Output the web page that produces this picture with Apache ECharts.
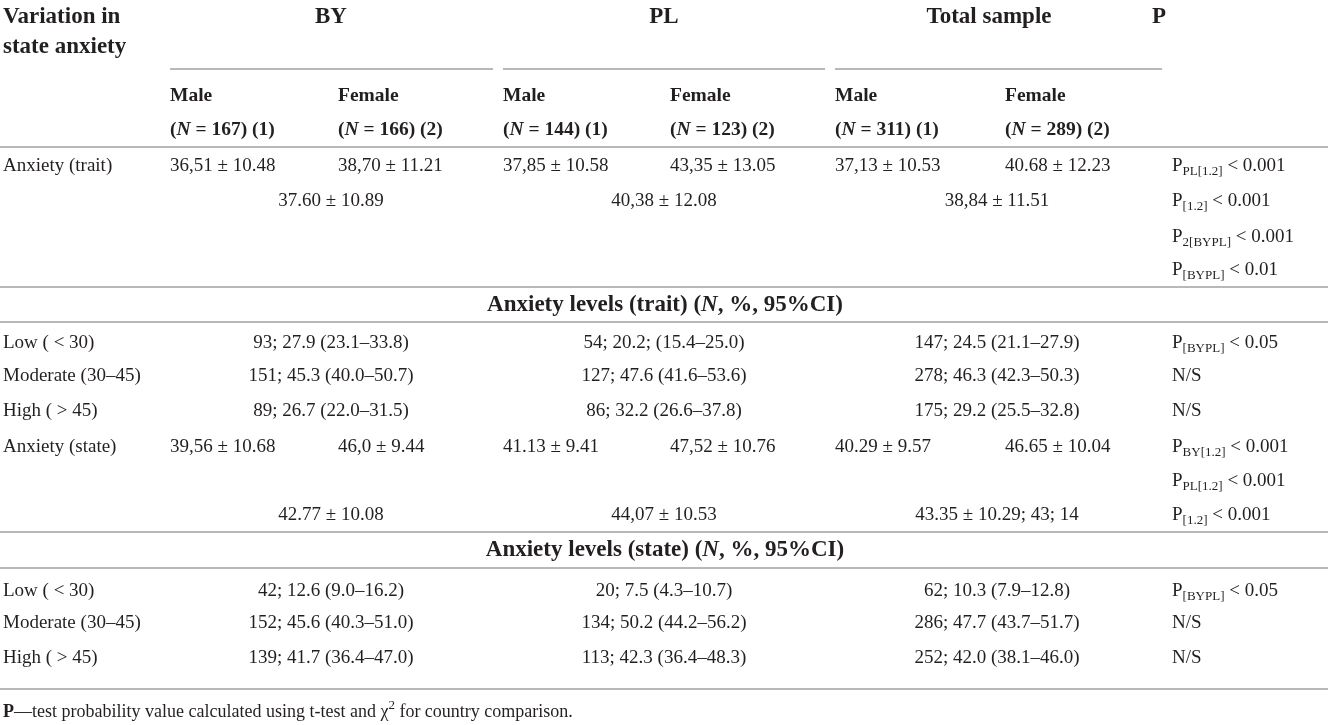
<!DOCTYPE html>
<html>
<head>
<meta charset="utf-8">
<script src="https://cdn.jsdelivr.net/npm/echarts@6/dist/echarts.min.js"></script>
<style>
html,body{margin:0;padding:0;background:#fff;}
#chart{width:1331px;height:725px;}
</style>
</head>
<body>
<div id="chart"></div>
<script>
// ---------------- DATA ----------------
const stubHeader = ['Variation in', 'state anxiety'];
const groups = ['BY', 'PL', 'Total sample'];
const pHeader = 'P';
const sexLabels = ['Male', 'Female'];
const groupN = [[167, 166], [144, 123], [311, 289]];

const traitLabel = 'Anxiety (trait)';
const traitMeans = ['36,51 ± 10.48', '38,70 ± 11.21', '37,85 ± 10.58', '43,35 ± 13.05', '37,13 ± 10.53', '40.68 ± 12.23'];
const traitCombined = ['37.60 ± 10.89', '40,38 ± 12.08', '38,84 ± 11.51'];
const traitP = [['PL[1.2]', '0.001'], ['[1.2]', '0.001'], ['2[BYPL]', '0.001'], ['[BYPL]', '0.01']];

const traitSection = ['Anxiety levels (trait) (', 'N', ', %, 95%CI)'];
const levelLabels = ['Low ( < 30)', 'Moderate (30–45)', 'High ( > 45)'];
const traitLevels = [
  ['93; 27.9 (23.1–33.8)', '54; 20.2; (15.4–25.0)', '147; 24.5 (21.1–27.9)'],
  ['151; 45.3 (40.0–50.7)', '127; 47.6 (41.6–53.6)', '278; 46.3 (42.3–50.3)'],
  ['89; 26.7 (22.0–31.5)', '86; 32.2 (26.6–37.8)', '175; 29.2 (25.5–32.8)']
];
const traitLevelP = [['[BYPL]', '0.05'], 'N/S', 'N/S'];

const stateLabel = 'Anxiety (state)';
const stateMeans = ['39,56 ± 10.68', '46,0 ± 9.44', '41.13 ± 9.41', '47,52 ± 10.76', '40.29 ± 9.57', '46.65 ± 10.04'];
const stateCombined = ['42.77 ± 10.08', '44,07 ± 10.53', '43.35 ± 10.29; 43; 14'];
const stateP = [['BY[1.2]', '0.001'], ['PL[1.2]', '0.001'], ['[1.2]', '0.001']];

const stateSection = ['Anxiety levels (state) (', 'N', ', %, 95%CI)'];
const stateLevels = [
  ['42; 12.6 (9.0–16.2)', '20; 7.5 (4.3–10.7)', '62; 10.3 (7.9–12.8)'],
  ['152; 45.6 (40.3–51.0)', '134; 50.2 (44.2–56.2)', '286; 47.7 (43.7–51.7)'],
  ['139; 41.7 (36.4–47.0)', '113; 42.3 (36.4–48.3)', '252; 42.0 (38.1–46.0)']
];
const stateLevelP = [['[BYPL]', '0.05'], 'N/S', 'N/S'];

const footnote = ['P', '—test probability value calculated using t-test and χ', '2', ' for country comparison.'];

// ---------------- LAYOUT ----------------
const W = 1331, H = 725;
const labelX = 3;
const colLeft = [170, 338, 503, 670, 835, 1005];
const groupCenter = [331, 664, 997];
const groupHeaderCenter = [331, 664, 989];
const pX = 1172, pHeadX = 1152;
const tableCenter = 665;
const groupSpans = [[170, 493], [503, 825], [835, 1162]];
const rowY = {
  h1: 17, h2: 47, sub1: 96, sub2: 130,
  trait: 166, traitComb: 201, traitP3: 237, traitP4: 270,
  sec1: 305, lev1: [343, 376, 411],
  state: 447, stateP2: 481, stateComb: 515,
  sec2: 550, lev2: [591, 623, 658],
  foot: 712
};
const fullRules = [147, 287, 322, 532, 568, 689];
const groupRuleY = 69;

// ---------------- TEXT BUILDERS ----------------
const F = '"Liberation Serif", "Times New Roman", serif';
const C = '#231f20';
const rich = {
  n: {fontFamily: F, fontSize: 19, lineHeight: 26, fill: C},
  s: {fontFamily: F, fontSize: 13, lineHeight: 26, padding: [12, 0, 0, 0], fill: C},
  b: {fontFamily: F, fontSize: 19.5, fontWeight: 'bold', lineHeight: 26, fill: C},
  bi: {fontFamily: F, fontSize: 19.5, fontWeight: 'bold', fontStyle: 'italic', lineHeight: 26, fill: C},
  h: {fontFamily: F, fontSize: 23, fontWeight: 'bold', lineHeight: 28, fill: C},
  hi: {fontFamily: F, fontSize: 23, fontWeight: 'bold', fontStyle: 'italic', lineHeight: 28, fill: C},
  f: {fontFamily: F, fontSize: 18, lineHeight: 24, fill: C},
  fb: {fontFamily: F, fontSize: 18, fontWeight: 'bold', lineHeight: 24, fill: C},
  fsup: {fontFamily: F, fontSize: 13, lineHeight: 24, padding: [0, 0, 12, 0], fill: C}
};
const tN = s => `{n|${s}}`;
const tB = s => `{b|${s}}`;
const tH = s => `{h|${s}}`;
const tP = p => Array.isArray(p) ? `{n|P}{s|${p[0]}}{n| < ${p[1]}}` : tN(p);

const items = [];
const add = (x, y, text, align) => items.push({x, y, text, align: align || 'left'});

// header
add(labelX, rowY.h1, tH(stubHeader[0]));
add(labelX, rowY.h2, tH(stubHeader[1]));
groups.forEach((g, i) => add(groupHeaderCenter[i], rowY.h1, tH(g), 'center'));
add(pHeadX, rowY.h1, tH(pHeader));
groupN.forEach((ns, gi) => ns.forEach((n, si) => {
  const x = colLeft[gi * 2 + si];
  add(x, rowY.sub1, tB(sexLabels[si]));
  add(x, rowY.sub2, `{b|(}{bi|N}{b| = ${n}) (${si + 1})}`);
}));

// trait means
add(labelX, rowY.trait, tN(traitLabel));
traitMeans.forEach((v, i) => add(colLeft[i], rowY.trait, tN(v)));
traitCombined.forEach((v, i) => add(groupCenter[i], rowY.traitComb, tN(v), 'center'));
[rowY.trait, rowY.traitComb, rowY.traitP3, rowY.traitP4].forEach((y, i) => add(pX, y, tP(traitP[i])));

// trait section
add(tableCenter, rowY.sec1, `{h|${traitSection[0]}}{hi|${traitSection[1]}}{h|${traitSection[2]}}`, 'center');
levelLabels.forEach((lab, r) => {
  add(labelX, rowY.lev1[r], tN(lab));
  traitLevels[r].forEach((v, g) => add(groupCenter[g], rowY.lev1[r], tN(v), 'center'));
  add(pX, rowY.lev1[r], tP(traitLevelP[r]));
});

// state means
add(labelX, rowY.state, tN(stateLabel));
stateMeans.forEach((v, i) => add(colLeft[i], rowY.state, tN(v)));
stateCombined.forEach((v, i) => add(groupCenter[i], rowY.stateComb, tN(v), 'center'));
[rowY.state, rowY.stateP2, rowY.stateComb].forEach((y, i) => add(pX, y, tP(stateP[i])));

// state section
add(tableCenter, rowY.sec2, `{h|${stateSection[0]}}{hi|${stateSection[1]}}{h|${stateSection[2]}}`, 'center');
levelLabels.forEach((lab, r) => {
  add(labelX, rowY.lev2[r], tN(lab));
  stateLevels[r].forEach((v, g) => add(groupCenter[g], rowY.lev2[r], tN(v), 'center'));
  add(pX, rowY.lev2[r], tP(stateLevelP[r]));
});

// footnote
add(labelX, rowY.foot, `{fb|${footnote[0]}}{f|${footnote[1]}}{fsup|${footnote[2]}}{f|${footnote[3]}}`);

// rules
const rules = [];
groupSpans.forEach(s => rules.push([s[0], groupRuleY, s[1]]));
fullRules.forEach(y => rules.push([0, y, 1328]));

// ---------------- CHART ----------------
const chart = echarts.init(document.getElementById('chart'), null, {renderer: 'canvas'});
chart.setOption({
  animation: false,
  backgroundColor: '#ffffff',
  grid: {left: 0, right: 0, top: 0, bottom: 0},
  xAxis: {type: 'value', min: 0, max: W, show: false},
  yAxis: {type: 'value', min: 0, max: H, inverse: true, show: false},
  series: [
    {
      type: 'custom',
      name: 'rules',
      silent: true,
      data: rules,
      renderItem: function (params, api) {
        const p1 = api.coord([api.value(0), api.value(1)]);
        const p2 = api.coord([api.value(2), api.value(1)]);
        return {
          type: 'line',
          shape: {x1: p1[0], y1: p1[1], x2: p2[0], y2: p2[1]},
          style: {stroke: '#b8b8b8', lineWidth: 2}
        };
      }
    },
    {
      type: 'custom',
      name: 'cells',
      silent: true,
      data: items.map((it, i) => [it.x, it.y, i]),
      renderItem: function (params, api) {
        const it = items[api.value(2)];
        const p = api.coord([api.value(0), api.value(1)]);
        return {
          type: 'text',
          x: p[0], y: p[1],
          style: {
            text: it.text,
            rich: rich,
            align: it.align,
            verticalAlign: 'middle',
            fill: C,
            font: '19px ' + F
          }
        };
      }
    }
  ]
});
</script>
</body>
</html>
